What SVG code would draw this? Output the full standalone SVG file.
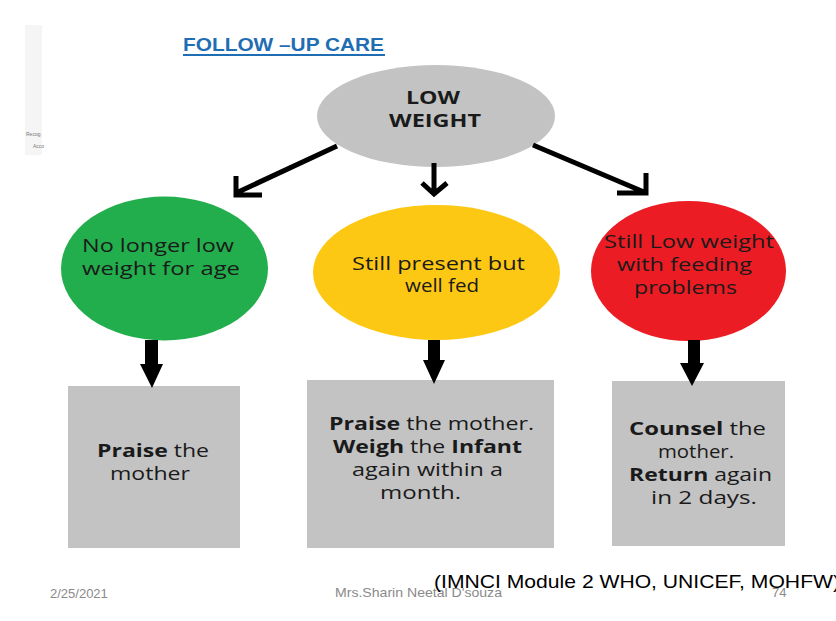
<svg xmlns="http://www.w3.org/2000/svg" width="836" height="621" viewBox="0 0 836 621">
<style>
.n{font-family:"Open Sans","DejaVu Sans",sans-serif;font-size:18px;fill:#1a1a1a}
.b{font-weight:bold}
.foot{font-family:"Liberation Sans",Arial,sans-serif;font-size:13px;fill:#8a8a8a}
.thin{stroke:#000;stroke-width:5;fill:none;stroke-linecap:butt}
.thick{fill:#000}
</style>
<rect width="836" height="621" fill="#fff"/>
<g id="sidebar">
<rect x="25" y="25" width="17" height="130" fill="#f5f5f5"/>
<text x="26" y="136" font-family="Liberation Sans,sans-serif" font-size="5" fill="#777">Recog</text>
<text x="33" y="148" font-family="Liberation Sans,sans-serif" font-size="5" fill="#777">Acco</text>
</g>
<g id="title">
<text x="183" y="51" font-family="Liberation Sans,Arial,sans-serif" font-size="17.5" font-weight="bold" fill="#1f6db3" textLength="201" lengthAdjust="spacingAndGlyphs">FOLLOW –UP CARE</text>
<rect x="183" y="54" width="202" height="2" fill="#1f6db3"/>
</g>
<g id="low-weight">
<ellipse cx="436" cy="116" rx="119" ry="51" fill="#c3c3c3"/>
<text class="n b" x="406" y="104" textLength="54" lengthAdjust="spacingAndGlyphs">LOW</text>
<text class="n b" x="389" y="127" textLength="92" lengthAdjust="spacingAndGlyphs">WEIGHT</text>
</g>
<g id="no-longer">
<ellipse cx="164.5" cy="268.5" rx="103.5" ry="72" fill="#22ae4c"/>
<text class="n" x="82" y="252" textLength="152" lengthAdjust="spacingAndGlyphs">No longer low</text>
<text class="n" x="82" y="275" textLength="158" lengthAdjust="spacingAndGlyphs">weight for age</text>
</g>
<g id="still-present">
<ellipse cx="436.5" cy="272.5" rx="123.5" ry="67.5" fill="#fdc813"/>
<text class="n" x="352" y="270" textLength="173" lengthAdjust="spacingAndGlyphs">Still present but</text>
<text class="n" x="405" y="292" textLength="74" lengthAdjust="spacingAndGlyphs">well fed</text>
</g>
<g id="still-low">
<ellipse cx="688.5" cy="271" rx="97.5" ry="70" fill="#ec1c24"/>
<text class="n" x="604" y="248" textLength="170" lengthAdjust="spacingAndGlyphs">Still Low weight</text>
<text class="n" x="617" y="271" textLength="135" lengthAdjust="spacingAndGlyphs">with feeding</text>
<text class="n" x="634" y="294" textLength="103" lengthAdjust="spacingAndGlyphs">problems</text>
</g>
<g id="box-praise">
<rect x="68" y="386" width="172" height="162" fill="#c3c3c3"/>
<text class="n" x="97" y="457" textLength="112" lengthAdjust="spacingAndGlyphs"><tspan class="b">Praise</tspan> the</text>
<text class="n" x="110" y="480" textLength="80" lengthAdjust="spacingAndGlyphs">mother</text>
</g>
<g id="box-weigh">
<rect x="307" y="380" width="247" height="168" fill="#c3c3c3"/>
<text class="n" x="329" y="430" textLength="205" lengthAdjust="spacingAndGlyphs"><tspan class="b">Praise</tspan> the mother.</text>
<text class="n" x="333" y="453" textLength="189" lengthAdjust="spacingAndGlyphs"><tspan class="b">Weigh</tspan> the <tspan class="b">Infant</tspan></text>
<text class="n" x="352" y="476" textLength="151" lengthAdjust="spacingAndGlyphs">again within a</text>
<text class="n" x="380" y="499" textLength="81" lengthAdjust="spacingAndGlyphs">month.</text>
</g>
<g id="box-counsel">
<rect x="612" y="381" width="173" height="165" fill="#c3c3c3"/>
<text class="n" x="629" y="435" textLength="137" lengthAdjust="spacingAndGlyphs"><tspan class="b">Counsel</tspan>  the</text>
<text class="n" x="658" y="458" textLength="76" lengthAdjust="spacingAndGlyphs">mother.</text>
<text class="n" x="629" y="481" textLength="143" lengthAdjust="spacingAndGlyphs"><tspan class="b">Return</tspan> again</text>
<text class="n" x="651" y="504" textLength="106" lengthAdjust="spacingAndGlyphs">in 2 days.</text>
</g>
<g id="connectors">
<path class="thin" d="M337,146 L236,193 M236,176 L236,195 L262,195"/>
<path class="thin" d="M434,163 L434,193 M422,183 L434,194 L447,183"/>
<path class="thin" d="M533,145 L644,192 M617,193 L646,193 L646,173"/>
<polygon class="thick" points="145,340 158,340 158,364 163,364 152,388 140,364 145,364"/>
<polygon class="thick" points="428,340 440,340 440,360 445,360 434,384 423,360 428,360"/>
<polygon class="thick" points="688,340 700,340 700,363 704,363 692,386 680,363 688,363"/>
</g>
<g id="footer">
<text class="foot" x="50" y="598">2/25/2021</text>
<text class="foot" x="335" y="597" textLength="167" lengthAdjust="spacingAndGlyphs">Mrs.Sharin Neetal D'souza</text>
<text class="foot" x="772" y="597">74</text>
<text x="434" y="588" font-family="Liberation Sans,Arial,sans-serif" font-size="19" fill="#000" textLength="406" lengthAdjust="spacingAndGlyphs">(IMNCI Module 2 WHO, UNICEF, MOHFW)</text>
</g>
</svg>
